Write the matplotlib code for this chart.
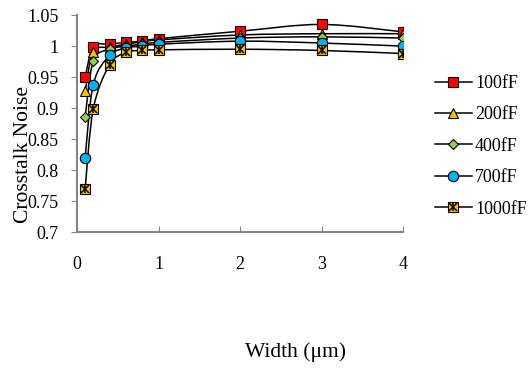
import numpy as np
import matplotlib
matplotlib.use("Agg")
import matplotlib.pyplot as plt
from matplotlib.path import Path
from matplotlib.patches import PathPatch
from matplotlib.lines import Line2D

plt.rcParams['font.family'] = ['Liberation Serif', 'DejaVu Serif']

width = [0.1, 0.2, 0.4, 0.6, 0.8, 1, 2, 3, 4]
noise_100 = [0.950, 0.999, 1.003, 1.006, 1.008, 1.012, 1.024, 1.035, 1.023]
noise_200 = [0.927, 0.991, 0.998, 1.003, 1.007, 1.010, 1.018, 1.020, 1.020]
noise_400 = [0.885, 0.976, 0.995, 1.000, 1.003, 1.006, 1.013, 1.015, 1.013]
noise_700 = [0.820, 0.938, 0.985, 0.997, 1.000, 1.003, 1.008, 1.005, 1.000]
noise_1000 = [0.770, 0.899, 0.970, 0.990, 0.993, 0.994, 0.995, 0.993, 0.988]
labels = ['100fF', '200fF', '400fF', '700fF', '1000fF']

series = [noise_100, noise_200, noise_400, noise_700, noise_1000]
markers = ['s', '^', 'D', 'o', 's']
colors = ['#FF0000', '#FFC000', '#92D050', '#00B0F0', '#FFC000']
msizes = [7.5, 7, 5.5, 7.5, 7]


def smooth_path(ax, x, y):
    # Excel style smoothed line: cubic bezier through points (Catmull-Rom),
    # control points computed in display space
    pts = ax.transData.transform(np.column_stack([x, y]))
    n = len(pts)
    verts = [pts[0]]
    codes = [Path.MOVETO]
    t = 1.0 / 6
    for i in range(n - 1):
        p0 = pts[i - 1] if i > 0 else pts[i]
        p1 = pts[i]
        p2 = pts[i + 1]
        p3 = pts[i + 2] if i + 2 < n else pts[i + 1]
        c1 = p1 + (p2 - p0) * t
        c2 = p2 - (p3 - p1) * t
        verts += [c1, c2, p2]
        codes += [Path.CURVE4] * 3
    return Path(verts, codes)


fig = plt.figure(figsize=(5.31, 3.69), dpi=100)
ax = fig.add_axes([0.145, 0.371, 0.614, 0.588])
ax.set_xlim(0, 4)
ax.set_ylim(0.7, 1.05)
fig.canvas.draw()

for s in series:
    path = smooth_path(ax, width, s)
    ax.add_patch(PathPatch(path, transform=None, fill=False, edgecolor='black',
                           lw=1.1, zorder=2))

handles = []
for i, (s, m, c, ms) in enumerate(zip(series, markers, colors, msizes)):
    ax.plot(width, s, linestyle='none', marker=m, markersize=ms,
            markerfacecolor=c, markeredgecolor='black', markeredgewidth=0.8, zorder=3)
    h = Line2D([], [], color='black', lw=1.1, marker=m, markersize=ms,
               markerfacecolor=c, markeredgecolor='black', markeredgewidth=0.8)
    if i == 4:
        # star marker: orange square with a black asterisk on top
        ax.plot(width, s, linestyle='none', marker='x', markersize=6,
                color='black', markeredgewidth=1.1, zorder=4)
        ax.plot(width, s, linestyle='none', marker='|', markersize=6,
                color='black', markeredgewidth=1.1, zorder=4)
        hx = Line2D([], [], linestyle='none', marker='x', markersize=6,
                    color='black', markeredgewidth=1.1)
        hv = Line2D([], [], linestyle='none', marker='|', markersize=6,
                    color='black', markeredgewidth=1.1)
        h = (h, hx, hv)
    handles.append(h)

ax.set_xticks([0, 1, 2, 3, 4])
ax.set_yticks(np.arange(0.7, 1.0501, 0.05))
ax.set_yticklabels(['0.7', '0.75', '0.8', '0.85', '0.9', '0.95', '1', '1.05'])
ax.tick_params(axis='y', direction='out', length=4, color='#868686', labelsize=13, pad=9)
ax.tick_params(axis='x', direction='in', length=4, color='#868686', labelsize=13, pad=17)
for side in ['top', 'right']:
    ax.spines[side].set_visible(False)
for side in ['left', 'bottom']:
    ax.spines[side].set_color('#868686')
    ax.spines[side].set_linewidth(1.5)

fig.text(0.045, 0.582, 'Crosstalk Noise', rotation=90, ha='center', va='center', fontsize=15.5)
fig.text(0.557, 0.046, 'Width (\u03bcm)', ha='center', va='center', fontsize=15.5)

ax.legend(handles, labels, loc='upper left', bbox_to_anchor=(0.819, 0.797),
          bbox_transform=fig.transFigure, frameon=False, fontsize=13,
          handlelength=2.05, handletextpad=0.17, labelspacing=0.8,
          borderaxespad=0, borderpad=0)

fig.savefig('out.png', dpi=100)
